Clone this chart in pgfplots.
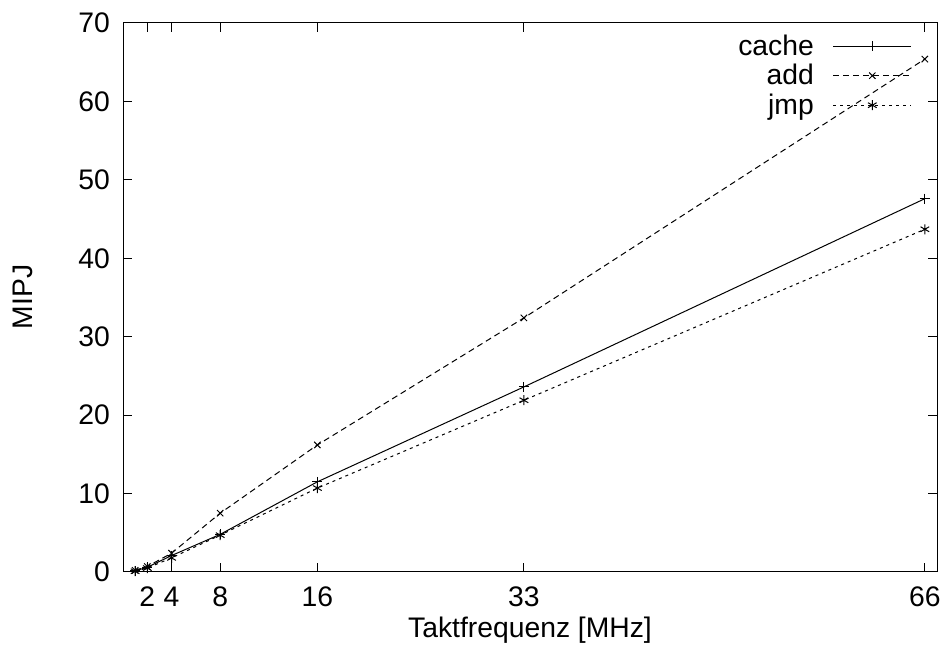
\documentclass[border=0pt]{standalone}
\usepackage{pgfplots}
\pgfplotsset{compat=1.18}
\usetikzlibrary{calc}
\usepackage{fontspec}
\setmainfont{Liberation Sans}
\begin{document}
\begin{tikzpicture}
\begin{axis}[
  name=ax,
  scale only axis,
  width=814pt, height=549pt,
  xmin=0, xmax=67, ymin=0, ymax=70,
  xtick={2,4,8,16,33,66},
  ytick={0,10,20,30,40,50,60,70},
  tick align=inside,
  major tick length=9pt,
  axis line style={line width=1pt},
  every tick/.style={line width=1pt, black},
  font=\fontsize{28.3}{34}\selectfont,
  /pgf/number format/assume math mode=true,
  xticklabel style={yshift=-11.5pt},
  yticklabel style={xshift=-9.5pt},
  xlabel={Taktfrequenz [MHz]},
  ylabel={MIPJ},
  every axis x label/.style={at={(axis description cs:0.5,-0.1202)}, anchor=base},
  every axis y label/.style={at={(axis description cs:-0.1106,0.501)}, rotate=90, anchor=base},
  legend style={draw=none, fill=none, inner sep=0pt, at={(axis description cs:0.9693,0.9818)}, anchor=north east,
    row sep=3.5pt, column sep=19pt, font=\fontsize{28.3}{34}\selectfont,
    nodes={inner sep=0pt, text height=22pt, text depth=4pt}},
  legend cell align=right,
  legend plot pos=right,
  legend image code/.code={\draw[mark repeat=2,mark phase=2,#1] plot coordinates {(0pt,0pt)(39pt,0pt)(78pt,0pt)};},
]
\addplot[black, line width=1pt, mark=+, mark size=5pt, mark options={solid}] coordinates {
 (1,0.15) (2,0.6) (4,2.1) (8,4.8) (16,11.5) (33,23.6) (66,47.6)};
\addlegendentry{cache}
\addplot[black, line width=1pt, dash pattern=on 6pt off 4pt, mark=x, mark size=4.5pt, mark options={solid}] coordinates {
 (1,0.2) (2,0.7) (4,2.4) (8,7.5) (16,16.2) (33,32.4) (66,65.4)};
\addlegendentry{add}
\addplot[black, line width=1pt, dash pattern=on 3pt off 4pt, mark=asterisk, mark size=5pt, mark options={solid}] coordinates {
 (1,0.1) (2,0.5) (4,1.8) (8,4.7) (16,10.7) (33,21.9) (66,43.7)};
\addlegendentry{jmp}
\end{axis}
\pgfresetboundingbox
\path[use as bounding box] ($(ax.south west)+(-123pt,-74pt)$) rectangle ($(ax.north east)+(4pt,23pt)$);
\end{tikzpicture}
\end{document}
